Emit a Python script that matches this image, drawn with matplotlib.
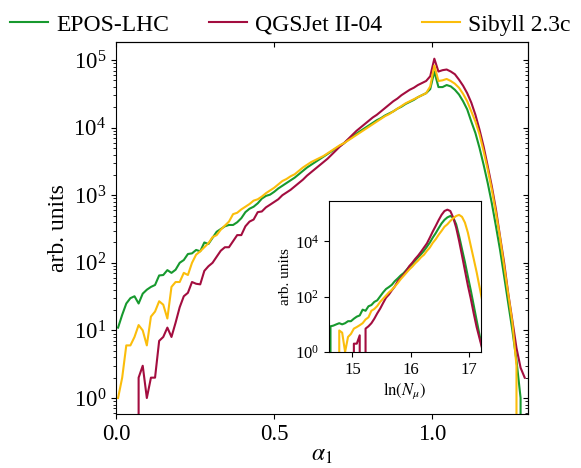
import numpy as np
import matplotlib
matplotlib.use("Agg")
import matplotlib.pyplot as plt
from matplotlib.ticker import LogLocator, NullLocator, NullFormatter

plt.rcParams["font.family"] = ["Liberation Serif", "DejaVu Serif"]
plt.rcParams["mathtext.fontset"] = "stix"

models = ["EPOS-LHC", "QGSJet II-04", "Sibyll 2.3c"]
colors = ["#17992e", "#a30d3f", "#fbbd0b"]

# alpha_1 histogram, 100 bins over [0, 1.3]
alpha_edges = np.linspace(0.0, 1.3, 101)
alpha = 0.5 * (alpha_edges[:-1] + alpha_edges[1:])

epos_alpha = [
    11, 17, 25, 30, 32, 25, 35, 40, 44, 47,
    65, 66, 78, 71, 79, 100, 110, 135, 138, 155,
    148, 200, 190, 234, 288, 316, 347, 363, 363, 398,
    457, 562, 631, 676, 759, 891, 977, 1020, 1122, 1259,
    1380, 1514, 1660, 1820, 2042, 2291, 2570, 2818, 3090, 3388,
    3715, 4074, 4467, 4898, 5370, 5888, 6607, 7244, 8128, 8913,
    9772, 10715, 11749, 12882, 13804, 15136, 16218, 17378, 19055, 20417,
    22387, 23988, 25704, 28184, 30200, 32359, 37154, 67608, 39811, 39811,
    42658, 40738, 36308, 30903, 24547, 18621, 12303, 8318, 5012, 2818,
    1514, 759, 347, 155, 63, 25, 10, 3.6, 1, 0,
]
qgsjet_alpha = [
    0, 0, 0, 0, 0, 2, 3, 1, 2, 2,
    7, 8, 11, 8, 13, 22, 32, 36, 52, 49,
    48, 76, 89, 100, 123, 151, 170, 170, 209, 257,
    257, 347, 407, 437, 562, 575, 661, 724, 794, 871,
    1000, 1096, 1202, 1349, 1514, 1698, 1950, 2188, 2455, 2754,
    3090, 3467, 3981, 4571, 5248, 5888, 6761, 7762, 8913, 10000,
    11220, 12589, 14125, 15488, 17378, 19498, 21878, 24547, 26915, 30200,
    33113, 36308, 38905, 42658, 45709, 48978, 57544, 104713, 67608, 70795,
    72444, 67608, 61660, 51286, 41687, 32359, 23442, 15488, 9333, 5248,
    2692, 1349, 617, 245, 100, 35, 14, 5.5, 2.8, 2,
]
sibyll_alpha = [
    1, 2, 6, 6, 8, 12, 10, 6, 16, 19,
    27, 24, 15, 44, 52, 52, 71, 66, 100, 132,
    148, 170, 195, 240, 257, 309, 355, 407, 525, 550,
    617, 676, 741, 832, 871, 955, 1072, 1175, 1288, 1445,
    1622, 1738, 1905, 2042, 2291, 2570, 2818, 3090, 3311, 3548,
    3802, 4169, 4571, 5012, 5495, 5888, 6457, 7079, 7762, 8511,
    9333, 10233, 11220, 12303, 13490, 14791, 15849, 17378, 19055, 20893,
    22909, 24547, 26303, 28184, 30200, 32359, 40738, 83176, 48978, 50119,
    52481, 48978, 44668, 38905, 31623, 24547, 17378, 12303, 7943, 4467,
    2399, 1202, 550, 234, 89, 34, 13, 3, 0, 0,
]

# ln(N_mu) histogram for the inset, bin width 0.05
lnmu = np.arange(54) * 0.05 + 14.575

epos_lnmu = [
    0, 8.5, 9, 10, 11, 10, 11, 13, 13, 16,
    19, 21, 34, 31, 45, 50, 65, 74, 103, 143,
    190, 224, 270, 365, 457, 585, 710, 933, 1230, 1550,
    2040, 2680, 3470, 4600, 6450, 9120, 13800, 19950, 30200, 44700,
    60300, 74100, 83200, 72400, 41700, 15800, 5250, 1780, 537, 170,
    49, 14, 4.1, 1.3,
]
qgsjet_lnmu = [
    0, 0, 0, 0, 0, 0, 0, 0, 0, 2,
    2, 4, 0, 7, 8.5, 11, 16, 25, 37, 59,
    92, 120, 170, 234, 363, 479, 631, 891, 1290, 1700,
    2340, 3090, 4270, 6030, 8510, 13800, 22900, 36300, 58900, 91200,
    126000, 141000, 126000, 72400, 31600, 10500, 3090, 891, 257, 85,
    25, 8, 3.1, 1.2,
]
sibyll_lnmu = [
    0, 0, 0, 0, 6, 5, 1, 3.5, 4.5, 7,
    8, 9.3, 11, 15, 18, 31, 36, 46, 65, 85,
    110, 144, 178, 234, 309, 427, 562, 741, 977, 1230,
    1620, 2040, 2690, 3310, 4570, 6030, 8910, 12000, 17400, 24000,
    33900, 41700, 55000, 69200, 83200, 91200, 77600, 47900, 20900, 6920,
    2340, 776, 224, 65,
]

fig = plt.figure(figsize=(5.81, 4.68), dpi=100)
ax = fig.add_axes([0.1997, 0.1154, 0.7091, 0.7949])

for vals, name, c in zip([epos_alpha, qgsjet_alpha, sibyll_alpha], models, colors):
    ax.plot(alpha, vals, color=c, lw=1.5, label=name)

ax.set_yscale("log")
ax.set_xlim(0, 1.304)
ax.set_ylim(0.58, 1.85e5)
ax.set_xticks([0.0, 0.5, 1.0])
ax.set_xticklabels(["0.0", "0.5", "1.0"])
ax.tick_params(labelsize=16.5)
ax.set_xlabel(r"$\alpha_1$", fontsize=17, labelpad=0)
ax.set_ylabel("arb. units", fontsize=17, labelpad=3)

# inward ticks on the top and right spines
top = ax.secondary_xaxis("top")
top.set_xticks([0.0, 0.5, 1.0])
top.tick_params(direction="in", labeltop=False)
right = ax.secondary_yaxis("right")
right.yaxis.set_major_locator(LogLocator(base=10, numticks=12))
right.yaxis.set_minor_locator(LogLocator(base=10, subs=np.arange(2, 10), numticks=12))
right.tick_params(which="both", direction="in", labelright=False)
right.yaxis.set_minor_formatter(NullFormatter())

fig.legend(loc="upper center", bbox_to_anchor=(0.5, 1.015), ncol=3, frameon=False,
           fontsize=17, handlelength=1.6, handletextpad=0.35, columnspacing=1.7)

# inset: ln(N_mu)
ins = fig.add_axes([0.5663, 0.2479, 0.2616, 0.3226])
for vals, c in zip([epos_lnmu, qgsjet_lnmu, sibyll_lnmu], colors):
    ins.plot(lnmu, vals, color=c, lw=1.5)
ins.set_yscale("log")
ins.set_xlim(14.6, 17.2)
ins.set_ylim(1, 2.9e5)
ins.set_xticks([15, 16, 17])
ins.set_yticks([1, 1e2, 1e4])
ins.yaxis.set_minor_locator(NullLocator())
ins.tick_params(labelsize=12)
ins.set_xlabel(r"$\ln(N_\mu)$", fontsize=12, labelpad=2)
ins.set_ylabel("arb. units", fontsize=11, labelpad=2)

fig.savefig("out.png", dpi=100)
